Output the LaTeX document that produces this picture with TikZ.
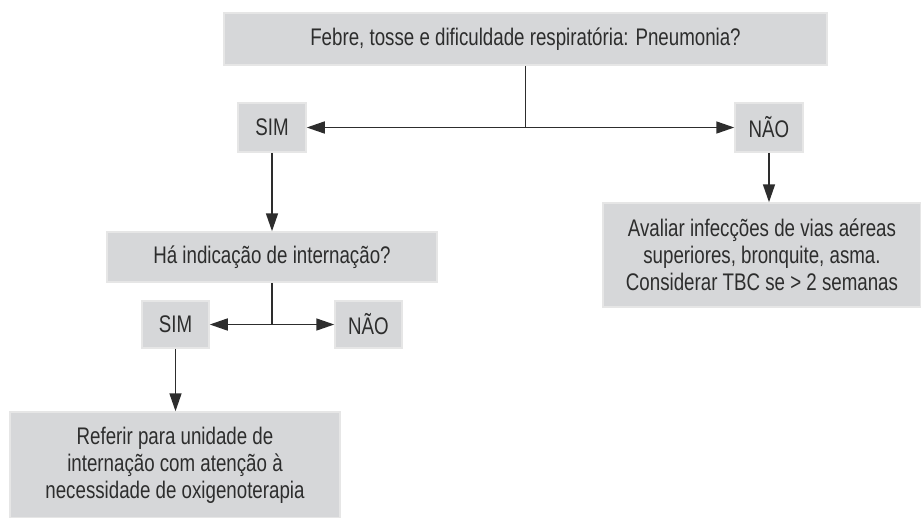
\documentclass[tikz,border=0pt]{standalone}
\usepackage{fontspec}
\setmainfont{Liberation Sans}[FakeStretch=0.78]
\usetikzlibrary{arrows.meta}
\definecolor{boxgray}{RGB}{214,215,217}
\definecolor{boxedge}{RGB}{230,230,230}
\definecolor{inkgray}{RGB}{45,45,45}

\begin{document}
\begin{tikzpicture}[x=1pt, y=-1pt,
    box/.style={fill=boxgray, draw=boxedge, line width=1.5pt, text=inkgray,
        align=center, inner sep=0pt, font=\fontsize{24}{27}\selectfont},
    arr/.style={draw=inkgray, line width=1.6pt, -{Triangle[length=18pt, width=12pt]}},
    lin/.style={draw=inkgray, line width=1.6pt}]
    \useasboundingbox (0, 0) rectangle (921, 517);

    % Main question
    \node[box, minimum width=603pt, minimum height=52pt] (febre) at (525.5, 39)
        {Febre, tosse e dificuldade respiratória: Pneumonia?};

    % First answers
    \node[box, minimum width=68pt, minimum height=49pt] (sim1) at (272, 127.5) {SIM};
    \node[box, minimum width=68pt, minimum height=49pt] (nao1) at (769, 127.5) {NÃO};
    \coordinate (split1) at (525.5, 127.5);

    \draw[lin] (febre.south) -- (split1);
    \draw[arr] (split1) -- (sim1);
    \draw[arr] (split1) -- (nao1);

    % No pneumonia
    \node[box, minimum width=318pt, minimum height=104pt] (avaliar) at (762, 255)
        {Avaliar infecções de vias aéreas\\ superiores, bronquite, asma.\\ Considerar TBC se > 2 semanas};
    \draw[arr] (nao1.south) -- (nao1.south |- avaliar.north);

    % Second question
    \node[box, minimum width=330pt, minimum height=50pt] (intern) at (272, 257)
        {Há indicação de internação?};
    \draw[arr] (sim1) -- (intern);

    \node[box, minimum width=67pt, minimum height=47pt] (sim2) at (175.5, 324.5) {SIM};
    \node[box, minimum width=67pt, minimum height=47pt] (nao2) at (368.5, 324.5) {NÃO};
    \coordinate (split2) at (272, 324.5);

    \draw[lin] (intern.south) -- (split2);
    \draw[arr] (split2) -- (sim2);
    \draw[arr] (split2) -- (nao2);

    % Referral
    \node[box, minimum width=330pt, minimum height=106pt] (referir) at (175, 465)
        {Referir para unidade de\\ internação com atenção à\\ necessidade de oxigenoterapia};
    \draw[arr] (sim2.south) -- (sim2.south |- referir.north);
\end{tikzpicture}
\end{document}
